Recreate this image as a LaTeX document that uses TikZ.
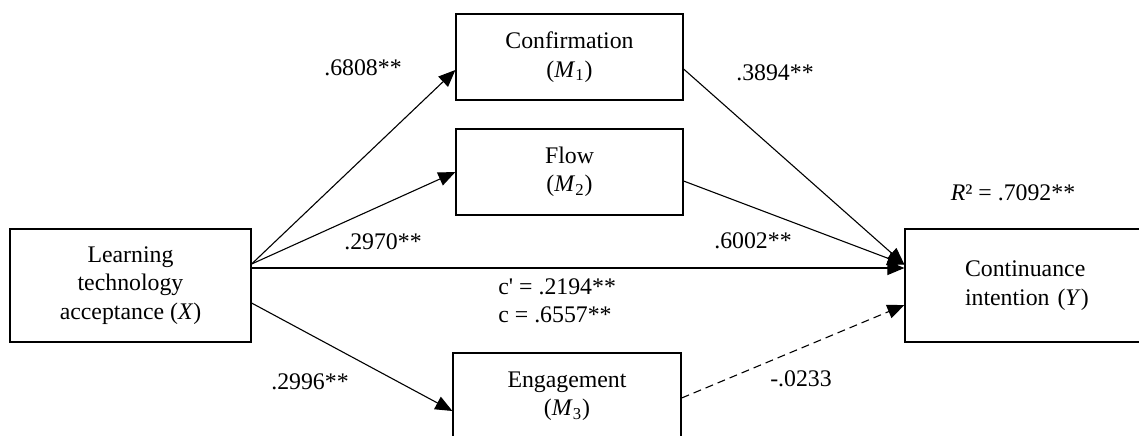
\documentclass[tikz,border=0pt]{standalone}
\usepackage{fontspec}
\setmainfont{Liberation Serif}
\usetikzlibrary{arrows.meta}
\begin{document}
\begin{tikzpicture}[x=0.5pt,y=-0.5pt,
  every node/.style={font=\fontsize{11.9}{14.25}\selectfont},
  box/.style={draw,line width=0.6pt,inner sep=0pt,align=center},
  lbl/.style={inner sep=0pt},
  arr/.style={line width=0.55pt,-{Triangle[length=8.5pt,width=7pt]}},
  darr/.style={arr,dash pattern=on 4pt off 2.5pt}]
\useasboundingbox (0,0) rectangle (1139,435);
% boxes
\node[box,minimum width=120.5pt,minimum height=56.5pt] (X) at (130.5,285.5)
  {Learning\\technology\\acceptance (\textit{X})};
\node[box,minimum width=113.5pt,minimum height=43pt] (M1) at (569.5,57)
  {Confirmation\\(\textit{M}\textsubscript{1})};
\node[box,minimum width=113.5pt,minimum height=43pt] (M2) at (569.5,172)
  {Flow\\(\textit{M}\textsubscript{2})};
\node[box,minimum width=114pt,minimum height=43pt] (M3) at (567,396)
  {Engagement\\(\textit{M}\textsubscript{3})};
\node[box,minimum width=125pt,minimum height=56.5pt,text width=119pt,align=left] (Y) at (1030,285.5)
  {\hspace*{27pt}Continuance\\\hspace*{27pt}intention (\textit{Y})};
% connectors
\coordinate (xa) at ([yshift=10.75pt]X.east);
\draw[arr] (xa) -- ([yshift=-6.5pt]M1.west);
\draw[arr] (xa) -- (M2.west);
\draw[arr] ([yshift=8.75pt]X.east) -- ([yshift=8.75pt]Y.west);
\draw[arr] ([yshift=-8.75pt]X.east) -- ([yshift=-7.5pt]M3.west);
\draw[arr] ([yshift=-6pt]M1.east) -- ([yshift=10.5pt]Y.west);
\draw[arr] ([yshift=-4.5pt]M2.east) -- ([yshift=10.5pt]Y.west);
\draw[darr] ([yshift=-1pt]M3.east) -- ([yshift=-9.75pt]Y.west);
% labels
\node[lbl] (l1) at (363,68) {.6808**};
\node[lbl] (l2) at (775,73) {.3894**};
\node[lbl] (l3) at (383,242) {.2970**};
\node[lbl] (l4) at (753,241) {.6002**};
\node[lbl,align=left,anchor=west] (l5) at (498,301) {c\textquotesingle{} = .2194**\\c = .6557**};
\node[lbl] (l6) at (310,382) {.2996**};
\node[lbl] (l7) at (801,379) {-.0233};
\node[lbl] (l8) at (1013,193) {\textit{R}² = .7092**};
\end{tikzpicture}
\end{document}
